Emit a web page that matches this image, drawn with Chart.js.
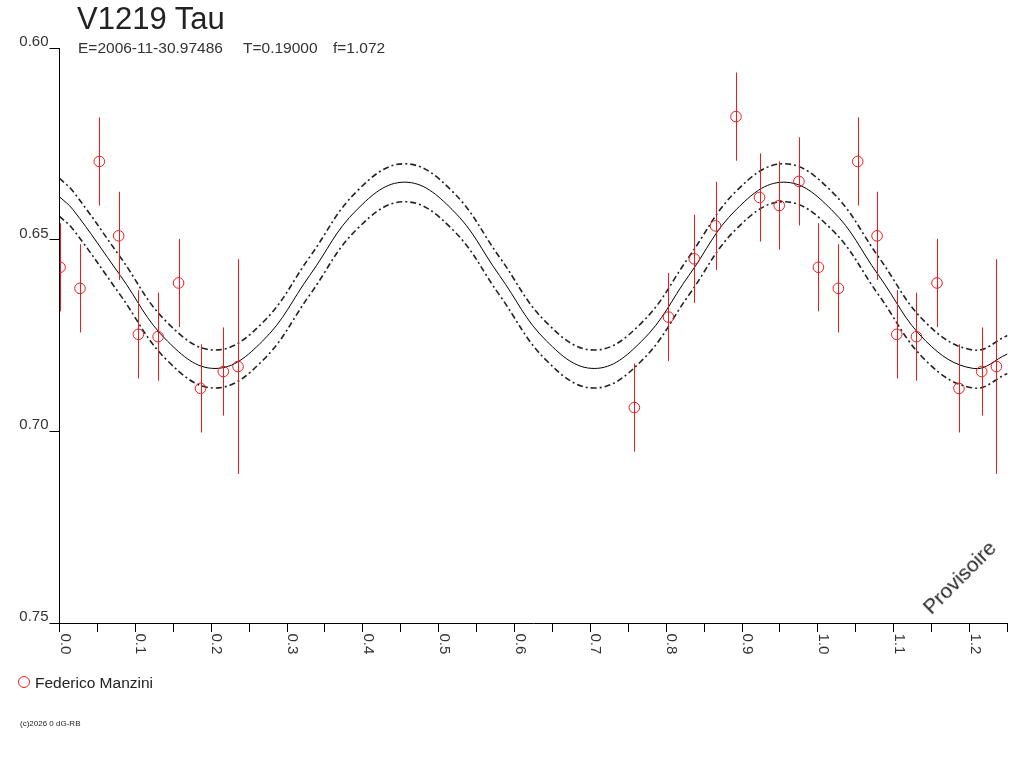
<!DOCTYPE html>
<html><head><meta charset="utf-8">
<script src="https://cdn.jsdelivr.net/npm/chart.js@4/dist/chart.umd.min.js"></script>
<style>
html,body{margin:0;padding:0;background:#fff;}
#wrap{position:relative;width:1024px;height:768px;overflow:hidden;font-family:"Liberation Sans",Arial,sans-serif;color:#222;}
#wrap canvas{position:absolute;left:0;top:0;}
.t{position:absolute;white-space:pre;}
</style></head><body>
<div id="wrap">
<canvas id="c" width="1024" height="768"></canvas>
<div class="t" style="left:77px;top:3px;font-size:31px;line-height:31px;color:#222;">V1219 Tau</div>
<div class="t" style="left:78px;top:40px;font-size:15.5px;line-height:16px;color:#333;">E=2006-11-30.97486</div>
<div class="t" style="left:243px;top:40px;font-size:15.5px;line-height:16px;color:#333;">T=0.19000</div>
<div class="t" style="left:333px;top:40px;font-size:15.5px;line-height:16px;color:#333;">f=1.072</div>
<div class="t" style="left:18px;top:676px;width:10px;height:10px;border:1px solid #e82020;border-radius:50%;"></div>
<div class="t" style="left:35px;top:675px;font-size:15.5px;line-height:15px;color:#222;">Federico Manzini</div>
<div class="t" style="left:20px;top:720px;font-size:8px;line-height:8px;color:#222;">(c)2026 0 dG-RB</div>
<div class="t" style="left:959px;top:577px;font-size:21px;line-height:21px;color:#222;transform:translate(-50%,-50%) rotate(-45deg);">Provisoire</div>
</div>
<script>
const obsPhase = [0.0007, 0.027, 0.0525, 0.078, 0.104, 0.130, 0.157, 0.186, 0.216, 0.2354,
                  0.758, 0.803, 0.837, 0.865, 0.892, 0.923, 0.949, 0.975];
const obsMag   = [0.6572, 0.6627, 0.6296, 0.6490, 0.6747, 0.6753, 0.6613, 0.6888, 0.6844, 0.6831,
                  0.6938, 0.6702, 0.6550, 0.6464, 0.6179, 0.6390, 0.6411, 0.6348];
const obsErr   = [0.0115, 0.0115, 0.0115, 0.0115, 0.0115, 0.0115, 0.0115, 0.0115, 0.0115, 0.0280,
                  0.0115, 0.0115, 0.0115, 0.0115, 0.0115, 0.0115, 0.0115, 0.0115];
const repeatBelow = 0.25; // phases below this are shown again one cycle later

// Fitted light curve and its envelopes
const curvePhase = [0, 0.0175, 0.080, 0.1425, 0.205, 0.2675, 0.330, 0.3925, 0.455, 0.5175, 0.580,
                    0.6425, 0.705, 0.7675, 0.830, 0.8925, 0.955, 1.0175, 1.080, 1.1425, 1.205, 1.25];
const curveMid   = [0.6388, 0.6421, 0.6593, 0.6765, 0.6836, 0.6765, 0.6593, 0.6421, 0.6350, 0.6421, 0.6593,
                    0.6765, 0.6836, 0.6765, 0.6593, 0.6421, 0.6350, 0.6421, 0.6593, 0.6765, 0.6836, 0.6798];
const curveUpper = [0.6340, 0.6373, 0.6545, 0.6717, 0.6788, 0.6717, 0.6545, 0.6373, 0.6302, 0.6373, 0.6545,
                    0.6717, 0.6788, 0.6717, 0.6545, 0.6373, 0.6302, 0.6373, 0.6545, 0.6717, 0.6788, 0.6750];
const curveLower = [0.6439, 0.6472, 0.6644, 0.6816, 0.6887, 0.6816, 0.6644, 0.6472, 0.6401, 0.6472, 0.6644,
                    0.6816, 0.6887, 0.6816, 0.6644, 0.6472, 0.6401, 0.6472, 0.6644, 0.6816, 0.6887, 0.6849];

// Tick labels
const xTickValues = [0.0, 0.1, 0.2, 0.3, 0.4, 0.5, 0.6, 0.7, 0.8, 0.9, 1.0, 1.1, 1.2];
const xTickLabels = ['0.0','0.1','0.2','0.3','0.4','0.5','0.6','0.7','0.8','0.9','1.0','1.1','1.2'];
const yTickValues = [0.60, 0.65, 0.70, 0.75];
const yTickLabels = ['0.60','0.65','0.70','0.75'];

// Build point table (with the repeated cycle)
const pts = [];
obsPhase.forEach((p, i) => pts.push({x: p, y: obsMag[i], e: obsErr[i]}));
obsPhase.forEach((p, i) => { if (p < repeatBelow) pts.push({x: p + 1, y: obsMag[i], e: obsErr[i]}); });
const toXY = arr => curvePhase.map((p, i) => ({x: p, y: arr[i]}));

const FONT = '"Liberation Sans", Arial, sans-serif';

const errorBars = {
  id: 'errorBars',
  afterDatasetsDraw(chart) {
    const {ctx, chartArea: a, scales: {x, y}} = chart;
    ctx.save();
    ctx.beginPath(); ctx.rect(a.left, a.top - 1, a.right - a.left, a.bottom - a.top + 2); ctx.clip();
    ctx.strokeStyle = '#f01818'; ctx.lineWidth = 1;
    pts.forEach(p => {
      const px = Math.round(x.getPixelForValue(p.x)) + 0.5;
      ctx.beginPath();
      ctx.moveTo(px, y.getPixelForValue(p.y - p.e));
      ctx.lineTo(px, y.getPixelForValue(p.y + p.e));
      ctx.stroke();
    });
    ctx.restore();
  }
};

const xLabels = {
  id: 'xLabels',
  afterDraw(chart) {
    const {ctx, scales: {x}} = chart;
    ctx.save();
    ctx.fillStyle = '#333';
    ctx.font = '15px ' + FONT;
    ctx.textAlign = 'left';
    ctx.textBaseline = 'alphabetic';
    xTickValues.forEach((v, i) => {
      const px = x.getPixelForValue(v);
      ctx.save();
      ctx.translate(px + 1, x.top + 10.5);
      ctx.rotate(Math.PI / 2);
      ctx.fillText(xTickLabels[i], 0, 0);
      ctx.restore();
    });
    ctx.restore();
  }
};

new Chart(document.getElementById('c'), {
  type: 'scatter',
  data: {
    datasets: [
      {
        label: 'Federico Manzini',
        data: pts,
        pointStyle: 'circle',
        pointRadius: 5.3,
        pointBorderWidth: 1,
        borderColor: '#f01818',
        backgroundColor: 'rgba(0,0,0,0)',
        showLine: false
      },
      {
        label: 'fit',
        data: toXY(curveMid),
        showLine: true, pointRadius: 0, borderColor: '#000', borderWidth: 1, tension: 0.4, fill: false
      },
      {
        label: 'upper',
        data: toXY(curveUpper),
        showLine: true, pointRadius: 0, borderColor: '#222', borderWidth: 1.6, borderDash: [6, 3, 2, 3], tension: 0.4, fill: false
      },
      {
        label: 'lower',
        data: toXY(curveLower),
        showLine: true, pointRadius: 0, borderColor: '#222', borderWidth: 1.6, borderDash: [6, 3, 2, 3], tension: 0.4, fill: false
      }
    ]
  },
  options: {
    responsive: false,
    animation: false,
    events: [],
    layout: {padding: {left: 0, right: 16.5, top: 48, bottom: 0}},
    plugins: {legend: {display: false}, tooltip: {enabled: false}, title: {display: false}},
    scales: {
      x: {
        type: 'linear', position: 'bottom', min: 0, max: 1.25,
        afterFit: s => { s.height = 145; },
        ticks: {display: false, stepSize: 0.05},
        grid: {display: true, drawOnChartArea: false, drawTicks: true, tickLength: 9, color: '#000', lineWidth: 1},
        border: {display: true, color: '#000', width: 1}
      },
      y: {
        type: 'linear', position: 'left', min: 0.60, max: 0.75, reverse: true,
        afterFit: s => { s.width = 59.5; },
        afterBuildTicks: s => { s.ticks = yTickValues.map(v => ({value: v})); },
        ticks: {
          callback: (v, i) => yTickLabels[i],
          font: {family: FONT, size: 15}, color: '#333', padding: 1, labelOffset: -6
        },
        grid: {display: true, drawOnChartArea: false, drawTicks: true, tickLength: 10, color: '#000', lineWidth: 1},
        border: {display: true, color: '#000', width: 1}
      }
    }
  },
  plugins: [errorBars, xLabels]
});
</script>
</body></html>
